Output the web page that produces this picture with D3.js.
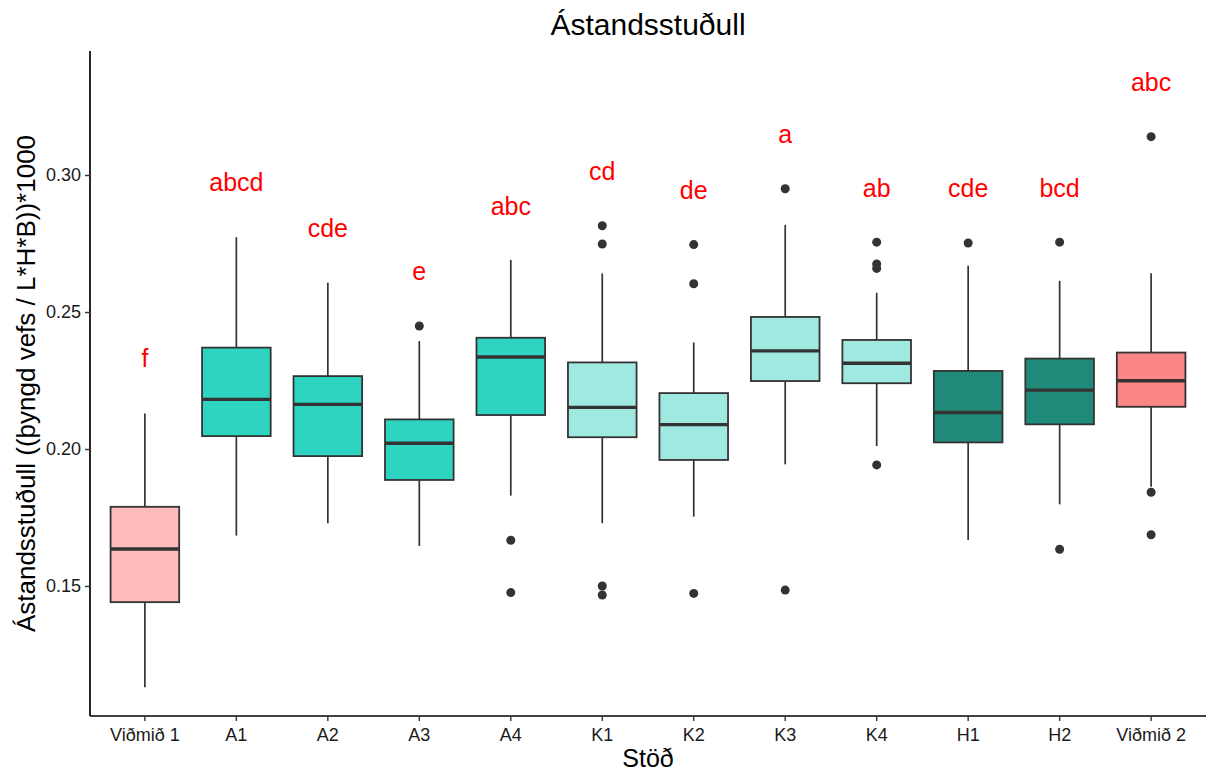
<!DOCTYPE html>
<html>
<head>
<meta charset="utf-8">
<script src="https://cdn.jsdelivr.net/npm/d3@7"></script>
<style>
  html, body { margin: 0; padding: 0; background: #ffffff; }
  svg { display: block; font-family: "Liberation Sans", Arial, sans-serif; }
</style>
</head>
<body>
<svg id="chart" width="1206" height="774"></svg>
<script>
// ---- Data ----
const categories = ["Viðmið 1","A1","A2","A3","A4","K1","K2","K3","K4","H1","H2","Viðmið 2"];
const groups     = ["ref1","A","A","A","A","K","K","K","K","H","H","ref2"];
const whiskerHigh = [0.2130, 0.2773, 0.2607, 0.2394, 0.2690, 0.2641, 0.2389, 0.2818, 0.2570, 0.2669, 0.2614, 0.2641];
const q3          = [0.1789, 0.2370, 0.2266, 0.2108, 0.2406, 0.2316, 0.2204, 0.2482, 0.2398, 0.2285, 0.2330, 0.2352];
const medians     = [0.1635, 0.2181, 0.2163, 0.2021, 0.2336, 0.2152, 0.2089, 0.2358, 0.2313, 0.2133, 0.2215, 0.2249];
const q1          = [0.1441, 0.2047, 0.1974, 0.1887, 0.2124, 0.2043, 0.1960, 0.2248, 0.2240, 0.2024, 0.2090, 0.2154];
const whiskerLow  = [0.1130, 0.1684, 0.1729, 0.1646, 0.1830, 0.1729, 0.1753, 0.1944, 0.2011, 0.1668, 0.1798, 0.1862];
const outliers = [
  [], [], [], [0.2449], [0.1667, 0.1476],
  [0.2815, 0.2748, 0.1500, 0.1467],
  [0.2746, 0.2603, 0.1473],
  [0.2950, 0.1485],
  [0.2755, 0.2675, 0.2659, 0.1942],
  [0.2752],
  [0.2755, 0.1634],
  [0.3140, 0.1842, 0.1687]
];
const letters  = ["f","abcd","cde","e","abc","cd","de","a","ab","cde","bcd","abc"];
const letterY  = [0.2331, 0.2972, 0.2806, 0.2650, 0.2887, 0.3015, 0.2945, 0.3150, 0.2953, 0.2952, 0.2952, 0.3337];
const yTicks = [0.15, 0.20, 0.25, 0.30];
const yDomain = [0.10255, 0.34526];

const titleText = "Ástandsstuðull";
const xTitle = "Stöð";
const yTitle = "Ástandsstuðull ((þyngd vefs / L*H*B))*1000";

// ---- Styles ----
const groupColor = { ref1: "#FFBBBB", A: "#2ED3C1", K: "#A0E9E1", H: "#1F8A79", ref2: "#FB8686" };
const FONT = '"Liberation Sans", Arial, sans-serif';

// ---- Layout ----
const plotLeft = 90, plotRight = 1206, plotTop = 51, plotBottom = 716;

const svg = d3.select("#chart");

const x = d3.scaleBand()
  .domain(categories)
  .range([plotLeft, plotRight])
  .paddingInner(0)
  .paddingOuter(0.1);

const y = d3.scaleLinear()
  .domain(yDomain)
  .range([plotBottom, plotTop]);

const boxW = x.bandwidth() * 0.75;
const cx = c => x(c) + x.bandwidth() / 2;

const rows = categories.map((c, i) => ({
  cat: c, group: groups[i], lo: whiskerLow[i], q1: q1[i], med: medians[i],
  q3: q3[i], hi: whiskerHigh[i], out: outliers[i], letter: letters[i], ly: letterY[i]
}));

const marks = svg.append("g");

// outliers
rows.forEach(r => {
  marks.selectAll(null)
    .data(r.out)
    .enter().append("circle")
    .attr("cx", cx(r.cat))
    .attr("cy", d => y(d))
    .attr("r", 4.5)
    .attr("fill", "#333333");
});

const box = marks.selectAll("g.box").data(rows).enter().append("g").attr("class", "box");

// whiskers
box.append("line")
  .attr("x1", d => cx(d.cat)).attr("x2", d => cx(d.cat))
  .attr("y1", d => y(d.q3)).attr("y2", d => y(d.hi))
  .attr("stroke", "#333333").attr("stroke-width", 1.7);
box.append("line")
  .attr("x1", d => cx(d.cat)).attr("x2", d => cx(d.cat))
  .attr("y1", d => y(d.q1)).attr("y2", d => y(d.lo))
  .attr("stroke", "#333333").attr("stroke-width", 1.7);

// boxes
box.append("rect")
  .attr("x", d => cx(d.cat) - boxW / 2)
  .attr("width", boxW)
  .attr("y", d => y(d.q3))
  .attr("height", d => y(d.q1) - y(d.q3))
  .attr("fill", d => groupColor[d.group])
  .attr("stroke", "#333333")
  .attr("stroke-width", 1.8);

// medians
box.append("line")
  .attr("x1", d => cx(d.cat) - boxW / 2).attr("x2", d => cx(d.cat) + boxW / 2)
  .attr("y1", d => y(d.med)).attr("y2", d => y(d.med))
  .attr("stroke", "#333333").attr("stroke-width", 3.4);

// significance letters
svg.append("g").selectAll("text")
  .data(rows).enter().append("text")
  .attr("x", d => cx(d.cat))
  .attr("y", d => y(d.ly))
  .attr("dy", "0.35em")
  .attr("text-anchor", "middle")
  .attr("fill", "#FF0000")
  .style("font-family", FONT)
  .style("font-size", "25px")
  .text(d => d.letter);

// axes
const yAxis = svg.append("g")
  .attr("transform", `translate(${plotLeft},0)`)
  .call(d3.axisLeft(y).tickValues(yTicks).tickFormat(d3.format(".2f")).tickSize(5).tickPadding(4));
const xAxis = svg.append("g")
  .attr("transform", `translate(0,${plotBottom})`)
  .call(d3.axisBottom(x).tickSize(5).tickPadding(7));

[yAxis, xAxis].forEach(a => {
  a.select(".domain").attr("stroke", "#000").attr("stroke-width", 1.7);
  a.selectAll(".tick line").attr("stroke", "#333").attr("stroke-width", 1.4);
  a.selectAll(".tick text").attr("fill", "#1a1a1a").style("font-family", FONT).style("font-size", "18px");
});
yAxis.select(".domain").attr("d", `M0,${plotBottom}V${plotTop}`);
xAxis.select(".domain").attr("d", `M${plotLeft},0H${plotRight}`);

// titles
svg.append("text")
  .attr("x", (plotLeft + plotRight) / 2)
  .attr("y", 35)
  .attr("text-anchor", "middle")
  .attr("fill", "#000")
  .style("font-family", FONT)
  .style("font-size", "30px")
  .text(titleText);

svg.append("text")
  .attr("x", (plotLeft + plotRight) / 2)
  .attr("y", 767)
  .attr("text-anchor", "middle")
  .attr("fill", "#000")
  .style("font-family", FONT)
  .style("font-size", "25px")
  .text(xTitle);

svg.append("text")
  .attr("transform", `translate(35,${(plotTop + plotBottom) / 2}) rotate(-90)`)
  .attr("text-anchor", "middle")
  .attr("fill", "#000")
  .style("font-family", FONT)
  .style("font-size", "26px")
  .text(yTitle);
</script>
</body>
</html>
